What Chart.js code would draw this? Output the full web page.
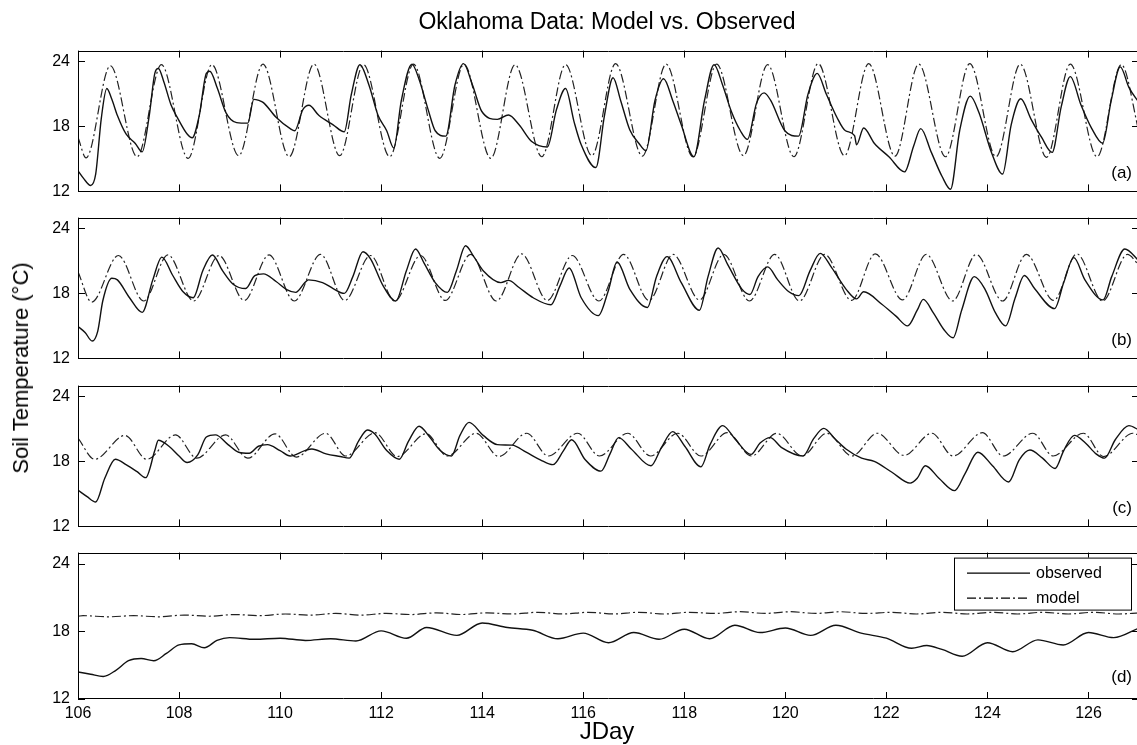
<!DOCTYPE html>
<html><head><meta charset="utf-8">
<script src="https://cdn.jsdelivr.net/npm/chart.js@4.4.1/dist/chart.umd.min.js"></script>
<style>
html,body{margin:0;padding:0;background:#fff;overflow:hidden;width:1137px;height:745px;}
#wrap{position:relative;width:1137px;height:745px;overflow:hidden;font-family:"Liberation Sans",Arial,Helvetica,sans-serif;color:#000;}
canvas{position:absolute;left:0;}
.t{position:absolute;white-space:nowrap;line-height:1;}
</style></head><body><div id="wrap">
<canvas id="pa"></canvas><canvas id="pb"></canvas><canvas id="pc"></canvas><canvas id="pd"></canvas>
<div class="t" id="title" style="font-size:23px;left:607px;top:10px;transform:translateX(-50%);">Oklahoma Data: Model vs. Observed</div>
<div class="t" id="ytitle" style="font-size:22px;left:21px;top:368px;transform:translate(-50%,-50%) rotate(-90deg);">Soil Temperature (°C)</div>
<div class="t" id="xtitle" style="font-size:24px;left:607px;top:719px;transform:translateX(-50%);">JDay</div>
<div class="t" style="font-size:17px;right:5px;top:164px;">(a)</div>
<div class="t" style="font-size:17px;right:5px;top:331px;">(b)</div>
<div class="t" style="font-size:17px;right:5px;top:499px;">(c)</div>
<div class="t" style="font-size:17px;right:5px;top:668px;">(d)</div>
</div>
<script>
// ---- tick labels ----
const xTicks = [106,108,110,112,114,116,118,120,122,124,126];
const yTicks = [12,18,24];
const seriesNames = ['observed','model'];
const panelTags = ['(a)','(b)','(c)','(d)'];

// ---- panel (a) ----
const obsA_day = [106.00,106.11,106.25,106.35,106.46,106.57,106.67,106.78,106.95,107.13,107.27,107.41,107.52,107.59,107.70,107.84,107.98,108.16,108.26,108.40,108.54,108.61,108.76,108.93,109.14,109.36,109.48,109.58,109.67,109.92,110.20,110.29,110.45,110.57,110.77,111.05,111.27,111.41,111.58,111.76,111.94,112.11,112.25,112.40,112.61,112.75,112.93,113.07,113.28,113.46,113.63,113.81,113.99,114.30,114.52,114.73,114.98,115.29,115.47,115.65,115.82,115.96,116.25,116.42,116.59,116.74,116.92,117.10,117.24,117.42,117.59,117.77,117.94,118.19,118.40,118.59,118.76,118.93,119.11,119.25,119.43,119.58,119.71,119.99,120.26,120.45,120.63,120.81,121.02,121.19,121.37,121.41,121.55,121.76,122.05,122.36,122.54,122.68,122.89,123.10,123.27,123.45,123.66,123.83,124.08,124.30,124.47,124.66,124.86,125.07,125.28,125.46,125.64,125.85,126.06,126.28,126.45,126.63,126.80,127.00];
const obsA_temp = [13.9,13.2,12.55,13.6,18.7,21.5,20.5,19.0,17.3,16.45,15.65,19.0,22.9,23.35,22.1,20.0,18.7,17.3,16.95,19.0,22.9,23.1,21.5,19.25,18.35,18.3,20.5,20.4,20.2,18.85,17.8,17.6,19.55,19.95,19.0,18.15,17.5,20.95,23.7,21.8,19.0,17.6,16.0,20.4,23.75,22.35,19.55,17.6,17.1,21.8,23.8,21.8,19.4,18.65,19.05,18.15,16.6,16.1,19.55,21.5,18.4,16.3,14.2,19.0,22.5,20.4,17.7,16.45,15.75,20.4,22.4,20.4,18.15,15.2,20.4,23.7,21.8,19.4,17.6,16.8,20.15,21.1,20.4,17.6,17.1,21.0,22.9,21.0,18.85,17.6,17.15,16.3,17.85,16.45,15.2,13.8,16.2,17.8,15.6,13.4,12.2,17.6,20.8,19.3,15.6,13.6,18.15,20.55,18.7,17.0,15.6,19.8,22.6,20.0,17.85,16.45,20.4,23.5,21.6,20.2];
const modA_day = [106.00,106.16,106.64,107.17,107.65,108.18,108.65,109.18,109.66,110.18,110.67,111.18,111.65,112.17,112.64,113.16,113.64,114.17,114.65,115.18,115.65,116.17,116.64,117.17,117.64,118.17,118.64,119.17,119.65,120.17,120.65,121.17,121.65,122.17,122.64,123.17,123.65,124.17,124.65,125.17,125.64,126.17,126.65,127.00];
const modA_temp = [17.0,15.1,23.6,15.2,23.7,15.05,23.7,15.3,23.75,15.2,23.75,15.3,23.7,15.2,23.75,15.05,23.75,15.05,23.7,15.2,23.7,15.3,23.8,15.25,23.75,15.2,23.75,15.3,23.7,15.2,23.8,15.3,23.8,15.25,23.75,15.2,23.8,15.2,23.75,15.15,23.75,15.2,23.7,17.5];

// ---- panel (b) ----
const obsB_day = [106.00,106.14,106.28,106.39,106.49,106.67,106.78,107.02,107.27,107.48,107.66,107.87,108.08,108.28,108.47,108.66,108.86,109.07,109.32,109.50,109.67,109.92,110.13,110.31,110.49,110.56,110.84,111.05,111.27,111.44,111.64,111.79,112.04,112.29,112.50,112.68,112.85,113.07,113.31,113.49,113.67,113.84,114.02,114.37,114.52,114.73,115.01,115.36,115.54,115.72,115.96,116.30,116.49,116.67,116.92,117.27,117.45,117.66,117.94,118.30,118.47,118.67,118.86,119.14,119.30,119.46,119.65,119.85,120.07,120.27,120.49,120.69,120.92,121.20,121.41,121.55,121.91,122.19,122.42,122.61,122.73,122.93,123.14,123.32,123.49,123.74,123.95,124.16,124.36,124.55,124.73,124.94,125.33,125.51,125.71,125.93,126.29,126.46,126.72,127.00];
const obsB_temp = [14.95,14.4,13.6,14.5,17.3,19.4,19.25,17.6,16.25,19.25,21.35,19.7,18.15,17.6,20.1,21.55,20.1,18.85,18.45,19.65,19.8,19.1,18.35,18.1,19.0,19.25,19.0,18.45,18.0,19.55,21.85,21.2,18.7,17.3,20.1,22.1,20.8,19.0,18.1,20.1,22.4,21.35,20.1,19.0,19.2,18.55,17.6,16.95,18.7,20.35,17.6,15.95,18.15,20.9,18.4,16.7,19.55,21.4,19.0,16.45,19.55,22.2,20.65,18.4,17.9,19.55,20.45,19.25,18.15,17.8,20.1,21.7,20.35,18.4,17.5,18.15,17.0,15.9,15.0,16.45,17.45,16.2,14.65,13.9,16.45,19.55,18.4,16.2,15.0,17.6,19.65,18.4,16.6,19.0,21.3,19.25,17.4,19.55,22.1,21.0];
const modB_day = [106.00,106.27,106.80,107.30,107.78,108.29,108.79,109.29,109.78,110.28,110.80,111.28,111.79,112.27,112.78,113.27,113.77,114.28,114.78,115.29,115.78,116.31,116.80,117.30,117.78,118.30,118.78,119.29,119.79,120.28,120.78,121.31,121.78,122.32,122.79,123.31,123.78,124.30,124.77,125.31,125.77,126.28,126.77,127.00];
const modB_temp = [20.0,17.2,21.5,17.3,21.55,17.3,21.5,17.35,21.55,17.3,21.6,17.35,21.5,17.3,21.5,17.35,21.6,17.3,21.65,17.35,21.5,17.3,21.6,17.35,21.6,17.4,21.6,17.3,21.6,17.3,21.6,17.35,21.65,17.4,21.6,17.3,21.6,17.3,21.6,17.35,21.65,17.3,21.6,20.6];

// ---- panel (c) ----
const obsC_day = [106.00,106.18,106.35,106.53,106.74,106.95,107.17,107.34,107.52,107.59,107.80,108.00,108.16,108.37,108.54,108.72,108.97,109.18,109.39,109.57,109.75,110.00,110.20,110.49,110.63,110.91,111.19,111.37,111.55,111.73,111.87,112.11,112.36,112.54,112.75,112.96,113.17,113.39,113.56,113.74,114.02,114.30,114.59,114.87,115.15,115.40,115.61,115.77,116.04,116.35,116.53,116.70,116.95,117.34,117.55,117.77,118.01,118.33,118.51,118.76,119.00,119.32,119.50,119.70,119.92,120.35,120.56,120.76,120.98,121.20,121.51,121.76,122.11,122.47,122.61,122.77,123.04,123.35,123.56,123.81,124.10,124.42,124.63,124.84,125.09,125.34,125.51,125.72,125.94,126.15,126.32,126.53,126.80,127.00];
const obsC_temp = [15.35,14.75,14.25,16.45,18.2,17.7,17.05,16.5,19.0,19.95,19.4,18.5,17.9,18.6,20.25,20.45,19.55,18.85,18.75,19.4,19.55,19.0,18.5,19.0,19.15,18.7,18.45,18.3,19.85,20.9,20.55,19.0,18.2,19.85,21.25,20.25,19.0,18.5,20.4,21.6,20.4,19.55,19.5,18.85,18.15,17.7,19.0,20.0,18.15,17.1,18.7,20.2,19.15,17.6,19.3,20.75,19.4,17.5,19.55,21.3,20.1,18.65,19.7,20.2,19.3,18.5,20.1,21.05,20.1,19.15,18.3,18.0,17.0,16.0,16.45,17.6,16.45,15.3,16.9,18.85,17.6,16.1,18.15,19.05,18.3,17.35,19.0,20.4,19.7,18.7,18.3,20.0,21.3,20.9];
const modC_day = [106.00,106.33,106.93,107.36,107.93,108.35,108.92,109.36,109.90,110.32,110.90,111.30,111.88,112.32,112.89,113.31,113.88,114.33,114.88,115.31,115.89,116.32,116.88,117.33,117.87,118.33,118.85,119.33,119.83,120.33,120.82,121.32,121.82,122.35,122.90,123.32,123.90,124.31,124.90,125.30,125.90,126.30,126.88,127.00];
const modC_temp = [20.15,18.2,20.4,18.2,20.45,18.3,20.45,18.3,20.55,18.4,20.6,18.5,20.65,18.45,20.55,18.5,20.6,18.45,20.6,18.5,20.6,18.5,20.6,18.5,20.6,18.5,20.65,18.5,20.6,18.5,20.6,18.5,20.6,18.55,20.6,18.5,20.65,18.5,20.6,18.5,20.6,18.45,20.6,20.4];

// ---- panel (d) ----
const obsD_day = [106.0,106.25,106.5,106.75,107.0,107.25,107.5,107.75,108.0,108.25,108.5,108.75,109.0,109.5,110.0,110.5,111.0,111.5,112.0,112.5,112.9,113.5,114.0,114.5,115.0,115.5,116.0,116.5,117.0,117.5,118.0,118.5,119.0,119.5,120.0,120.5,121.0,121.5,122.0,122.5,122.8,123.1,123.5,124.0,124.5,125.0,125.5,126.0,126.5,127.0];
const obsD_temp = [14.4,14.2,14.0,14.55,15.4,15.6,15.4,16.05,16.8,16.9,16.55,17.2,17.45,17.3,17.4,17.2,17.35,17.15,18.05,17.4,18.35,17.65,18.75,18.35,18.1,17.35,17.85,17.0,17.9,17.3,18.2,17.35,18.55,17.9,18.3,17.65,18.55,17.85,17.4,16.5,16.75,16.4,15.8,17.0,16.2,17.25,16.8,17.9,17.45,18.3];
const modD_day = [106.0,106.1,106.6,107.1,107.6,108.1,108.6,109.1,109.6,110.1,110.6,111.1,111.6,112.1,112.6,113.1,113.6,114.1,114.6,115.1,115.6,116.1,116.6,117.1,117.6,118.1,118.6,119.1,119.6,120.1,120.6,121.1,121.6,122.1,122.6,123.1,123.6,124.1,124.6,125.1,125.6,126.1,126.6,127.0];
const modD_temp = [19.35,19.4,19.3,19.4,19.3,19.45,19.35,19.5,19.4,19.55,19.45,19.6,19.45,19.6,19.5,19.65,19.5,19.65,19.55,19.7,19.55,19.7,19.55,19.7,19.55,19.7,19.6,19.75,19.6,19.75,19.6,19.75,19.6,19.7,19.55,19.7,19.55,19.7,19.55,19.7,19.55,19.7,19.55,19.65];

// ---- layout ----
const FONT = '"Liberation Sans", Arial, Helvetica, sans-serif';
const PAD_TOP = 8, PLOT_H = 156, AXIS_W = 78, CANVAS_W = 1139;
const panels = [
  {id:'pa', top:41,  obs:[obsA_day,obsA_temp], mod:[modA_day,modA_temp], last:false},
  {id:'pb', top:208, obs:[obsB_day,obsB_temp], mod:[modB_day,modB_temp], last:false},
  {id:'pc', top:376, obs:[obsC_day,obsC_temp], mod:[modC_day,modC_temp], last:false},
  {id:'pd', top:543, obs:[obsD_day,obsD_temp], mod:[modD_day,modD_temp], last:true}
];
const toXY = (d,t) => d.map((v,i)=>({x:v,y:t[i]}));
const MODEL_DASH = [9,3,2,3];

const frameTicks = {
  id:'frameTicks',
  afterDatasetsDraw(chart){
    const {ctx, chartArea:a, scales:{x,y}} = chart;
    ctx.save();
    ctx.strokeStyle='#000'; ctx.lineWidth=1;
    ctx.beginPath();
    ctx.rect(Math.round(a.left)+0.5, Math.round(a.top)+0.5, Math.round(a.right-a.left)-1, Math.round(a.bottom-a.top)-1);
    xTicks.forEach(v=>{
      const px=Math.round(x.getPixelForValue(v))+0.5;
      ctx.moveTo(px,a.bottom); ctx.lineTo(px,a.bottom-7);
      ctx.moveTo(px,a.top); ctx.lineTo(px,a.top+7);
    });
    yTicks.forEach(v=>{
      const py=Math.round(y.getPixelForValue(v))+0.5;
      ctx.moveTo(a.left,py); ctx.lineTo(a.left+7,py);
      ctx.moveTo(a.right,py); ctx.lineTo(a.right-7,py);
    });
    ctx.stroke();
    ctx.restore();
  }
};

const boxLegend = {
  id:'boxLegend',
  afterDraw(chart, args, opts){
    if(!opts.show) return;
    const {ctx, chartArea:a} = chart;
    const L = 954, R = a.right - 8, T = a.top + 5, B = a.top + 57;
    ctx.save();
    ctx.fillStyle='#fff'; ctx.fillRect(L,T,R-L,B-T);
    ctx.strokeStyle='#000'; ctx.lineWidth=1;
    ctx.strokeRect(L+0.5,T+0.5,R-L,B-T);
    const rows=[T+15, T+40];
    ctx.font='16px '+FONT; ctx.fillStyle='#000'; ctx.textBaseline='middle'; ctx.textAlign='left';
    seriesNames.forEach((n,i)=>{
      ctx.beginPath();
      ctx.lineWidth = i===0?1.4:1.2;
      ctx.setLineDash(i===0?[]:MODEL_DASH);
      ctx.moveTo(967,rows[i]+0.5); ctx.lineTo(1030,rows[i]+0.5); ctx.stroke();
      ctx.setLineDash([]);
      ctx.fillText(n,1036,rows[i]+1);
    });
    ctx.restore();
  }
};

panels.forEach(p=>{
  const cv = document.getElementById(p.id);
  const xh = p.last ? 30 : 12;
  cv.width = CANVAS_W; cv.height = PAD_TOP + PLOT_H + xh;
  cv.style.top = (p.top - PAD_TOP) + 'px';
  new Chart(cv, {
    type:'line',
    data:{datasets:[
      {label:seriesNames[0], data:toXY(p.obs[0],p.obs[1]), borderColor:'#111', borderWidth:1.4, pointRadius:0, fill:false, cubicInterpolationMode:'monotone'},
      {label:seriesNames[1], data:toXY(p.mod[0],p.mod[1]), borderColor:'#222', borderWidth:1.2, borderDash:MODEL_DASH, pointRadius:0, fill:false, cubicInterpolationMode:'monotone'}
    ]},
    options:{
      responsive:false, animation:false, events:[], devicePixelRatio:1,
      layout:{padding:{top:PAD_TOP,left:0,right:0,bottom:0}},
      plugins:{legend:{display:false}, tooltip:{enabled:false}, title:{display:false}, boxLegend:{show:p.last}},
      scales:{
        x:{type:'linear', min:106, max:127,
           afterBuildTicks:s=>{s.ticks=xTicks.map(v=>({value:v}));},
           afterFit:s=>{s.height=xh;},
           grid:{display:false, drawTicks:false}, border:{display:false},
           ticks:{display:p.last, autoSkip:false, maxRotation:0, padding:5, color:'#000', font:{family:FONT,size:16}}},
        y:{type:'linear', min:12, max:25,
           afterBuildTicks:s=>{s.ticks=yTicks.map(v=>({value:v}));},
           afterFit:s=>{s.width=AXIS_W;},
           grid:{display:false, drawTicks:false}, border:{display:false},
           ticks:{padding:8, color:'#000', font:{family:FONT,size:16}}}
      }
    },
    plugins:[frameTicks, boxLegend]
  });
});
</script>
</body></html>
